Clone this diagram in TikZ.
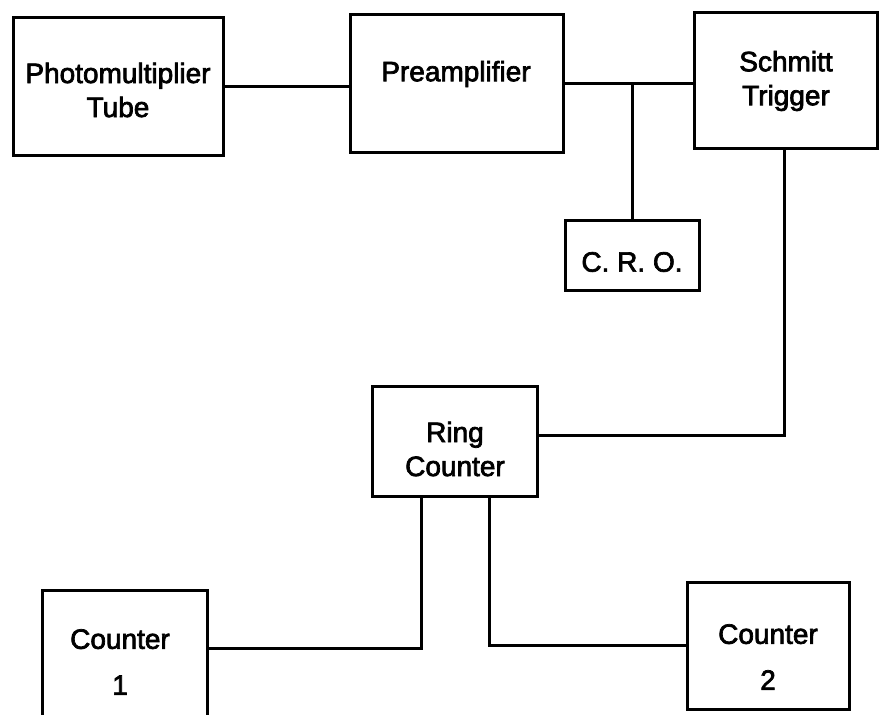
\documentclass[tikz,border=0pt]{standalone}
\usepackage{fontspec}
\newfontfamily\lbl{Liberation Sans}[FakeBold=2.5]
\begin{document}
\begin{tikzpicture}[x=1pt,y=-1pt,
  box/.style={draw, line width=3pt, inner sep=0pt},
  wire/.style={line width=3pt},
  lab/.style={font=\lbl\fontsize{28}{34}\selectfont, align=center, inner sep=0pt}]
\useasboundingbox (0,0) rectangle (879,715);
\clip (0,0) rectangle (879,715);
% boxes
\node[box, minimum width=210pt, minimum height=138pt] (pmt) at (118,86) {};
\node[box, minimum width=213pt, minimum height=138pt] (pre) at (456.5,83) {};
\node[box, minimum width=183pt, minimum height=136pt] (sch) at (786,80) {};
\node[box, minimum width=134pt, minimum height=70pt] (cro) at (632,255) {};
\node[box, minimum width=165pt, minimum height=110pt] (ring) at (454.5,441) {};
\node[box, minimum width=165pt, minimum height=140pt] (c1) at (124.5,660) {};
\node[box, minimum width=162pt, minimum height=127pt] (c2) at (768,645.5) {};
% labels
\node[lab] (pmtt) at (118,90) {Photomultiplier\\Tube};
\node[lab] (pret) at (456,74) {Preamplifier};
\node[lab] (scht) at (786,81) {Schmitt\\Trigger};
\node[lab] (crot) at (632,262) {C. R. O.};
\node[lab] (ringt) at (455,449) {Ring\\Counter};
\node[lab] (c1t) at (120,662) {Counter\\[12pt]1};
\node[lab] (c2t) at (768,657) {Counter\\[12pt]2};
% connectors
\draw[wire] (pmt.east) -- (pmt.east -| pre.west);
\draw[wire] (pre.east) -- (pre.east -| sch.west);
\draw[wire] (cro.north) -- (cro.north |- pre.east);
\draw[wire] ([xshift=-1.5pt]sch.south) |- ([yshift=6pt]ring.east);
\draw[wire] ([xshift=-33.5pt]ring.south) |- ([yshift=12pt]c1.east);
\draw[wire] ([xshift=34.5pt]ring.south) |- (c2.west);
\end{tikzpicture}
\end{document}
